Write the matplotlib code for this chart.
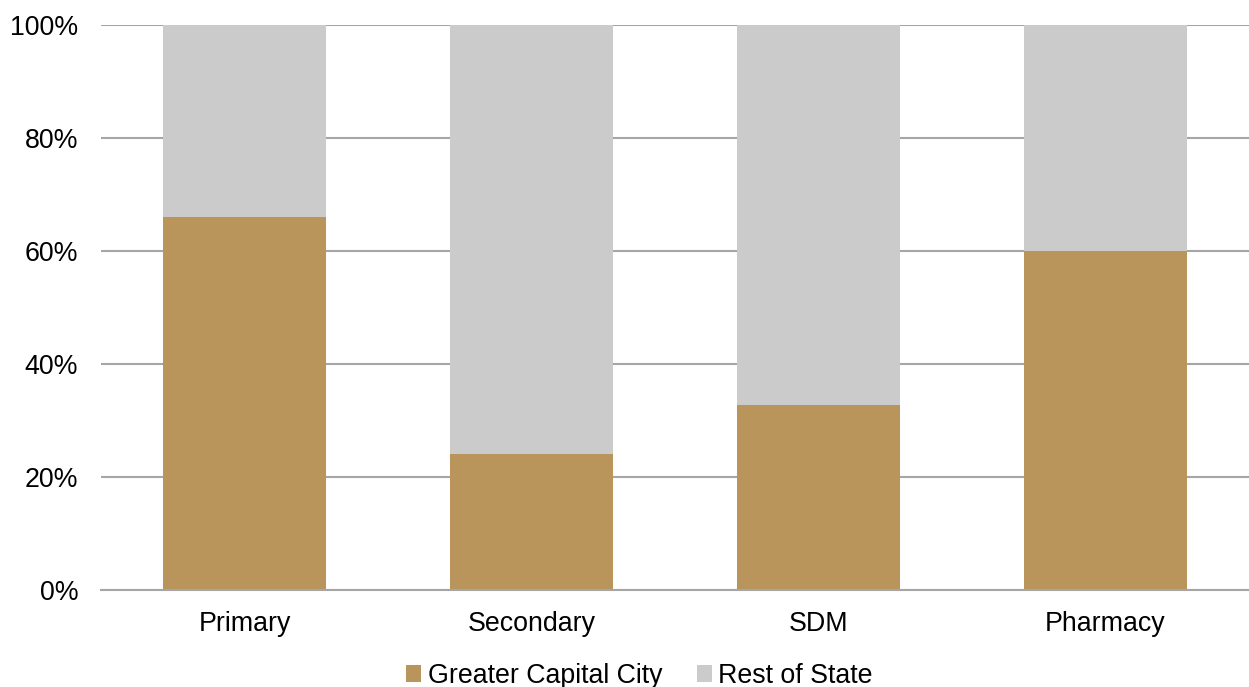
import matplotlib
matplotlib.use("Agg")
import matplotlib.pyplot as plt
from matplotlib.patches import Patch
from matplotlib.ticker import FuncFormatter

plt.rcParams['font.family'] = ['Liberation Sans', 'DejaVu Sans']

categories = ["Primary", "Secondary", "SDM", "Pharmacy"]
greater_capital = [66.0, 24.0, 32.8, 60.0]
rest_of_state = [100 - v for v in greater_capital]
series_names = ["Greater Capital City", "Rest of State"]
colors = ["#B9955B", "#CBCBCB"]

fig = plt.figure(figsize=(12.49, 6.87), dpi=100)
ax = fig.add_axes([0.0809, 0.1412, 0.9191, 0.8224])

x = range(len(categories))
ax.bar(x, greater_capital, width=0.57, color=colors[0], zorder=3)
ax.bar(x, rest_of_state, bottom=greater_capital, width=0.57, color=colors[1], zorder=3)

ax.set_xlim(-0.5, len(categories) - 0.5)
ax.set_ylim(0, 100)
ax.set_yticks([0, 20, 40, 60, 80, 100])
ax.yaxis.set_major_formatter(FuncFormatter(lambda v, p: f"{int(v)}%"))
ax.set_xticks(list(x))
ax.set_xticklabels(categories)
ax.grid(axis='y', color='#A6A6A6', linewidth=1.5, zorder=0)
for s in ['top', 'right', 'left']:
    ax.spines[s].set_visible(False)
ax.spines['bottom'].set_color('#A6A6A6')
ax.spines['bottom'].set_linewidth(1.5)
ax.spines['bottom'].set_zorder(4)
ax.tick_params(axis='both', length=0, labelsize=19.3, colors='black')
ax.tick_params(axis='y', pad=16.5)
ax.tick_params(axis='x', pad=15)

handles = [Patch(facecolor=c, label=n) for c, n in zip(colors, series_names)]
fig.legend(handles=handles, loc='center', bbox_to_anchor=(0.512, 0.016), ncol=2,
           frameon=False, fontsize=19.3, handlelength=0.55, handleheight=0.55,
           handletextpad=0.25, columnspacing=1.3)

fig.savefig("out.png", dpi=100)
